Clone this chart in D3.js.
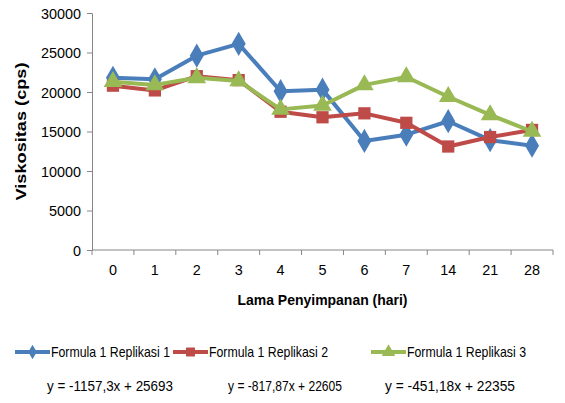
<!DOCTYPE html>
<html>
<head>
<meta charset="utf-8">
<script src="https://cdn.jsdelivr.net/npm/d3@7"></script>
<style>
body{margin:0;background:#fff;}
text{font-family:"Liberation Sans",Arial,sans-serif;fill:#000;}
</style>
</head>
<body>
<div class="plot"></div>
<script>
var days = ['0','1','2','3','4','5','6','7','14','21','28'];
var rep1 = [21800,21600,24600,26100,20100,20300,13800,14600,16300,13900,13200];
var rep2 = [20800,20200,22000,21500,17500,16800,17300,16100,13100,14300,15200];
var rep3 = [21300,20900,21800,21400,17800,18300,20900,21900,19400,17100,15000];
var names = ['Formula 1 Replikasi 1','Formula 1 Replikasi 2','Formula 1 Replikasi 3'];
var equations = ['y = -1157,3x + 25693','y = -817,87x + 22605','y = -451,18x + 22355'];
var colors = ['#4A7EBB','#BE4B48','#98B954'];
var yTicks = [0,5000,10000,15000,20000,25000,30000];

var W = 565, H = 403,
    m = {t:13,l:92,r:12,b:153},
    w = W - m.l - m.r,
    h = H - m.t - m.b;

var svg = d3.select('.plot').append('svg')
    .attr('width',W).attr('height',H);

var g = svg.append('g').attr('transform','translate('+m.l+','+m.t+')');

var x = d3.scaleBand().domain(days).range([0,w]);
var y = d3.scaleLinear().domain([0,30000]).range([h,0]);

// y axis
var ya = g.append('g').call(d3.axisLeft(y).tickValues(yTicks).tickFormat(d3.format('d')).tickSize(5).tickPadding(6));
ya.select('.domain').attr('stroke','#868686');
ya.selectAll('.tick line').attr('stroke','#868686');
ya.selectAll('text').style('font-size','15px').attr('dy','0.35em')
    .attr('textLength',function(d){return String(d).length*8}).attr('lengthAdjust','spacingAndGlyphs');

// x axis
var xa = g.append('g').attr('transform','translate(0,'+h+')')
    .call(d3.axisBottom(x).tickSize(0).tickPadding(14));
xa.select('.domain').attr('stroke','#868686').attr('d','M0,0H'+w);
xa.selectAll('text').style('font-size','15px')
    .attr('textLength',function(d){return d.length*8}).attr('lengthAdjust','spacingAndGlyphs');
xa.selectAll('.sep').data(d3.range(days.length+1)).enter()
    .append('line').attr('class','sep')
    .attr('x1',function(d){return d*x.step()})
    .attr('x2',function(d){return d*x.step()})
    .attr('y1',0).attr('y2',5).attr('stroke','#868686');

// titles
svg.append('text')
    .attr('transform','translate(26,'+(m.t+h/2)+') rotate(-90)')
    .attr('text-anchor','middle')
    .style('font-size','15px').style('font-weight','bold')
    .attr('textLength',138).attr('lengthAdjust','spacingAndGlyphs')
    .text('Viskositas (cps)');
svg.append('text')
    .attr('x',m.l+w/2).attr('y',305)
    .attr('text-anchor','middle')
    .style('font-size','15px').style('font-weight','bold')
    .attr('textLength',170).attr('lengthAdjust','spacingAndGlyphs')
    .text('Lama Penyimpanan (hari)');

var series = [rep1,rep2,rep3];
var line = d3.line()
    .x(function(d,i){return x(days[i])+x.bandwidth()/2})
    .y(function(d){return y(d)});

var markers = [
    function(s){return d3.symbol().type(d3.symbolDiamond).size(s)()},
    function(s){return d3.symbol().type(d3.symbolSquare).size(s)()},
    function(s){return d3.symbol().type(d3.symbolTriangle).size(s)()}
];

series.forEach(function(data,k){
    g.append('path').datum(data)
        .attr('d',line).attr('fill','none')
        .attr('stroke',colors[k]).attr('stroke-width',4)
        .attr('stroke-linejoin','round');
    g.selectAll('.mk'+k).data(data).enter()
        .append('path').attr('class','mk'+k)
        .attr('transform',function(d,i){return 'translate('+(x(days[i])+x.bandwidth()/2)+','+y(d)+')'})
        .attr('d',markers[k](k==0?170:150))
        .attr('fill',colors[k]);
});

// legend
var legX = [15,173,371];
var eqX = [47,228,385];
var eqW = [126,114,130];
legX.forEach(function(lx,k){
    var lg = svg.append('g').attr('transform','translate('+lx+',352)');
    lg.append('line').attr('x1',0).attr('x2',35).attr('stroke',colors[k]).attr('stroke-width',4);
    lg.append('path').attr('transform','translate(17.5,0)')
        .attr('d',markers[k](k==0?60:80)).attr('fill',colors[k]);
    lg.append('text').attr('x',36).attr('dy','0.35em')
        .style('font-size','15px')
        .attr('textLength',119).attr('lengthAdjust','spacingAndGlyphs')
        .text(names[k]);
    svg.append('text').attr('x',eqX[k]).attr('y',391)
        .style('font-size','15px')
        .attr('textLength',eqW[k]).attr('lengthAdjust','spacingAndGlyphs')
        .text(equations[k]);
});
</script>
</body>
</html>
